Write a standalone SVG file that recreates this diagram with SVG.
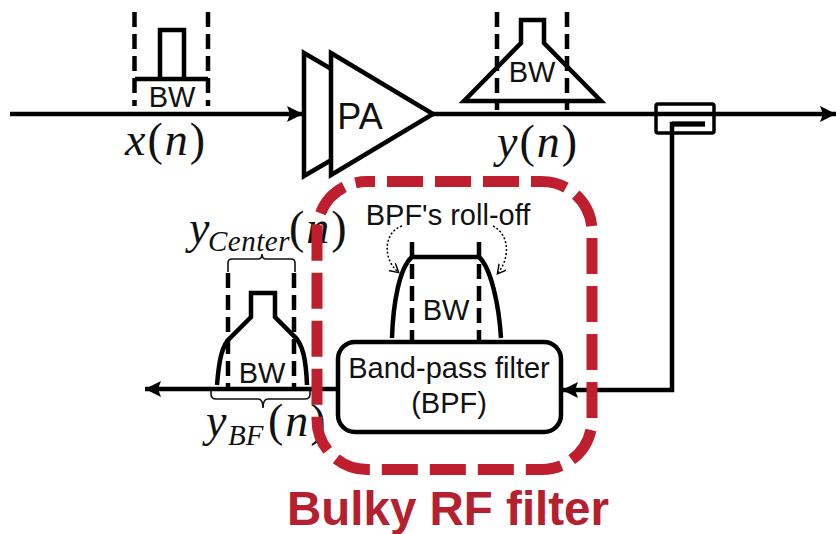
<svg xmlns="http://www.w3.org/2000/svg" width="836" height="534" viewBox="0 0 836 534">
<style>
.l{fill:none;stroke:#000;stroke-width:4.500}
.w{fill:#fff;stroke:#000;stroke-width:4.500;stroke-linejoin:miter}
.d{fill:none;stroke:#000;stroke-width:4.500;stroke-dasharray:15 7}
.b{fill:none;stroke:#111;stroke-width:1.600}
.t{font-family:"Liberation Sans",Arial,sans-serif;fill:#111;font-size:29px;text-anchor:middle}
.m{font-family:"Liberation Serif","Times New Roman",serif;font-style:italic;fill:#111;font-size:46px}
.p{font-family:"Liberation Serif","Times New Roman",serif;fill:#111;font-size:46px}
.s{font-size:29px}
</style>
<defs>
<marker id="a" markerUnits="userSpaceOnUse" markerWidth="18" markerHeight="18" refX="16" refY="8" orient="auto"><path d="M0 0L16 8L0 16L3 8Z" fill="#000"/></marker>
<marker id="c" markerUnits="userSpaceOnUse" markerWidth="12" markerHeight="12" refX="8" refY="5" orient="auto"><path d="M0 0L9 5L0 10" fill="none" stroke="#000" stroke-width="1.400"/></marker>
</defs>
<rect width="836" height="534" fill="#fff"/>
<g id="connectors">
<path class="l" d="M10 114H303" marker-end="url(#a)"/>
<path class="l" d="M433 114H836" marker-end="url(#a)"/>
<path class="l" d="M705 124H672V390H562" marker-end="url(#a)"/>
<path class="l" d="M338 389H145" marker-end="url(#a)"/>
</g>
<g id="input-spectrum">
<path class="d" d="M134.500 12V106M208 12V106"/>
<path class="l" d="M135 79H208M160 79V30H184V79"/>
<text class="t" x="172" y="107">BW</text>
<text x="125" y="155" letter-spacing="2"><tspan class="m">x</tspan><tspan class="p">(</tspan><tspan class="m">n</tspan><tspan class="p">)</tspan></text>
</g>
<g id="pa">
<path class="w" d="M304 53L340 74V155L304 176Z"/>
<path class="w" d="M331 53L433 114L331 175Z"/>
<text class="t" x="360" y="129" style="font-size:36px">PA</text>
</g>
<g id="output-spectrum">
<path class="d" d="M497 12V110M567 12V110"/>
<path class="l" d="M464 101H601L544 43V20H521V43Z"/>
<text class="t" x="532" y="82">BW</text>
<text x="497" y="157" letter-spacing="2"><tspan class="m">y</tspan><tspan class="p">(</tspan><tspan class="m">n</tspan><tspan class="p">)</tspan></text>
</g>
<g id="coupler">
<rect x="656" y="104" width="58" height="29" rx="2" fill="none" stroke="#000" stroke-width="3.500"/>
<path d="M672 124H705" stroke="#000" stroke-width="5" fill="none"/>
</g>
<g id="center-spectrum">
<path class="d" d="M228 273V388M294 273V388"/>
<path class="l" d="M217 385C219 360 222 345 230 338L251 317V293H275V317L294 336C303 344 306 360 307 385"/>
<text class="t" x="262" y="383">BW</text>
<path class="b" d="M228 272V263Q228 259 232 259H258Q262 259 262 254Q262 259 266 259H291Q295 259 295 263V272"/>
<path class="b" d="M211 390V394Q211 399 216 399H258Q263 399 263 408Q263 399 268 399H305Q310 399 310 394V390"/>
<text x="189" y="243"><tspan class="m">y</tspan></text>
<text x="208" y="251" class="m s" letter-spacing="0.500">Center</text>
<text x="289" y="243" letter-spacing="2"><tspan class="p">(</tspan><tspan class="m">n</tspan><tspan class="p">)</tspan></text>
<text x="206" y="436"><tspan class="m">y</tspan></text>
<text x="228" y="445" class="m s">BF</text>
<text x="268" y="436" letter-spacing="2"><tspan class="p">(</tspan><tspan class="m">n</tspan><tspan class="p">)</tspan></text>
</g>
<g id="bpf-response">
<path class="d" d="M412 242V341M479 242V341"/>
<path class="l" d="M392 338C393 305 399 268 412 257H479C491 268 499 305 501 338"/>
<text class="t" x="446" y="320">BW</text>
<text class="t" x="448" y="225">BPF's roll-off</text>
<path d="M402 226C384 232 382 258 398 272" fill="none" stroke="#000" stroke-width="1.500" stroke-dasharray="2 2" marker-end="url(#c)"/>
<path d="M493 226C510 235 510 258 498 273" fill="none" stroke="#000" stroke-width="1.500" stroke-dasharray="2 2" marker-end="url(#c)"/>
</g>
<g id="bpf">
<rect class="w" x="338" y="342" width="223" height="90" rx="17"/>
<text class="t" x="449" y="378">Band-pass filter</text>
<text class="t" x="449" y="413">(BPF)</text>
</g>
<g id="bulky-filter">
<rect x="317" y="181.500" width="275" height="288" rx="50" fill="none" stroke="#be1e2d" stroke-width="11" stroke-dasharray="36 12" stroke-dashoffset="28"/>
<text x="448" y="525" text-anchor="middle" font-family="Liberation Sans, Arial, sans-serif" font-weight="700" font-size="47.500" fill="#b5202e">Bulky RF filter</text>
</g>
</svg>
